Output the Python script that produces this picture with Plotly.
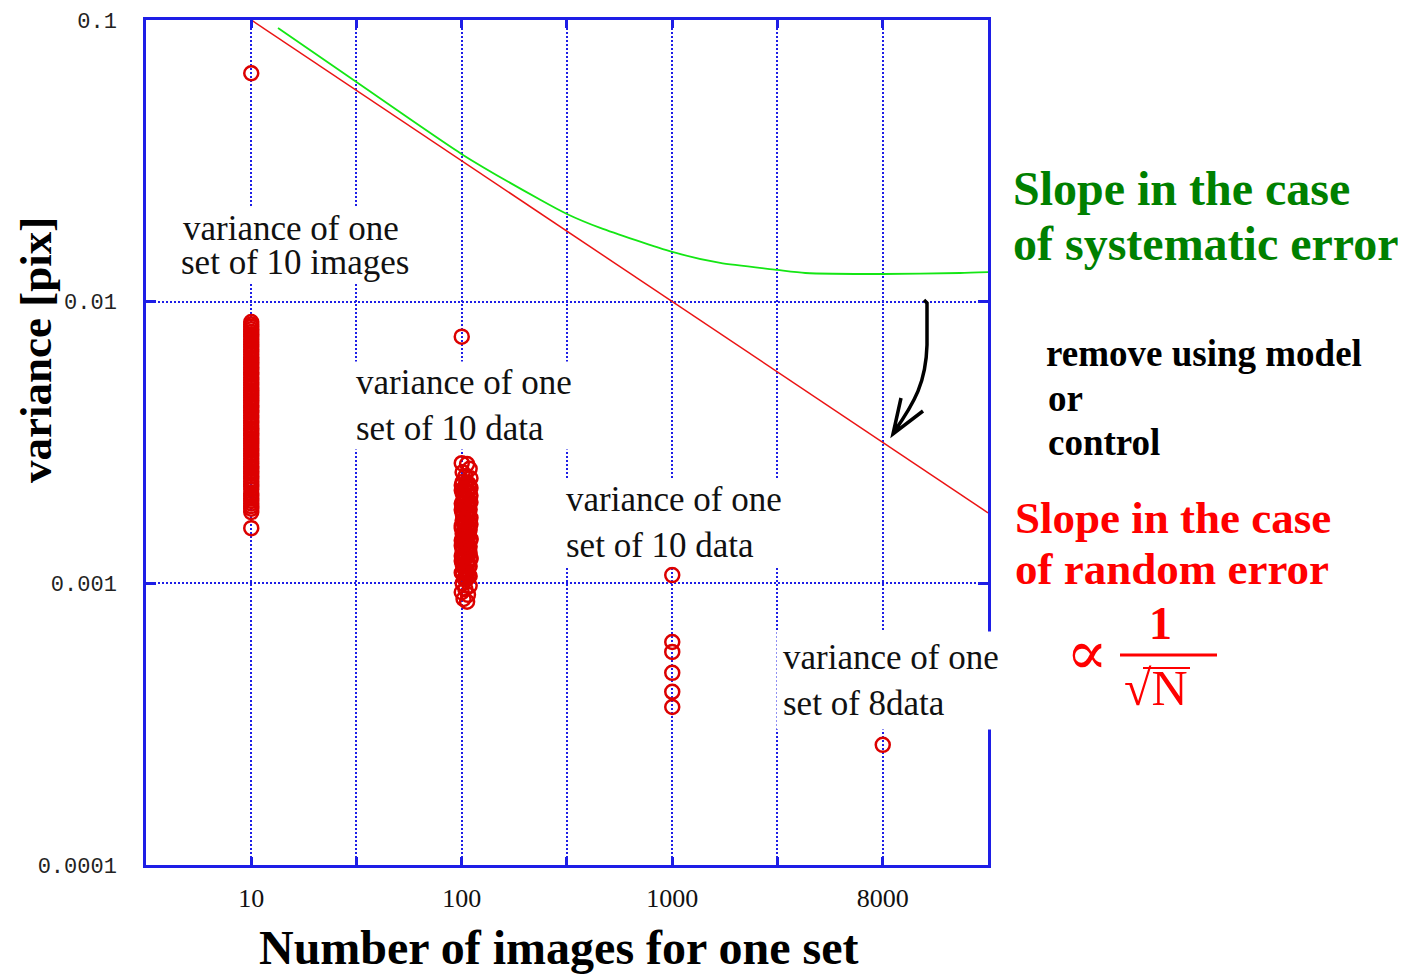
import plotly.graph_objects as go

# x axis (log): labelled ticks; the last tick is labelled 8000 in the original
tick_pos = [10, 31.62, 100, 316.2, 1000, 3162, 10000]
tick_text = ['10', '', '100', '', '1000', '', '8000']
y_ticks = [0.0001, 0.001, 0.01, 0.1]
y_text = ['0.0001', '0.001', '0.01', '0.1']

# variance of one set of 10 images (N = 10)
n10_var = [0.0647,
           0.00847, 0.00830, 0.00815, 0.00798, 0.00781, 0.00766, 0.00750, 0.00735, 0.00719, 0.00705,
           0.00690, 0.00676, 0.00662, 0.00649, 0.00635, 0.00622, 0.00610, 0.00597, 0.00585, 0.00573,
           0.00561, 0.00550, 0.00538, 0.00527, 0.00516, 0.00506, 0.00495, 0.00485, 0.00475, 0.00466,
           0.00456, 0.00447, 0.00437, 0.00428, 0.00420, 0.00411, 0.00403, 0.00394, 0.00386, 0.00378,
           0.00371, 0.00363, 0.00355, 0.00348, 0.00341, 0.00334, 0.00327, 0.00320, 0.00314, 0.00307,
           0.00301, 0.00295, 0.00289, 0.00283, 0.00277, 0.00271, 0.00266, 0.00260, 0.00255, 0.00250,
           0.00245, 0.00240, 0.00235, 0.00230, 0.00225, 0.00221, 0.00216, 0.00208, 0.00204, 0.00200,
           0.00196, 0.00192, 0.00188, 0.00184, 0.00179,
           0.00157]
n10_n = [10] * len(n10_var)

# variance of one set of 10 data (N around 100)
n100_n = [100, 100, 106, 109, 101, 104, 110,
          101, 108, 104, 110, 100, 106, 102, 109, 105,
          103, 110, 101, 107, 104, 100, 108, 102, 106,
          109, 101, 105, 110, 103, 100, 107, 104, 108,
          102, 110, 100, 106, 103, 109, 101, 105, 108,
          104, 100, 110, 102, 107, 101, 109, 103, 106,
          100, 108, 104, 105,
          105, 100, 109, 103, 107, 101, 110, 104, 102,
          108, 100, 106, 103, 109, 105, 101, 107, 110,
          102, 104, 108, 100, 106, 109, 103, 101, 105,
          107, 110, 102, 104, 100, 108, 106, 101, 109,
          103, 105, 110, 100, 107, 102, 108, 104, 101,
          106, 109, 103,
          101, 109, 104, 100, 107, 102, 106]
n100_var = [0.00751, 0.00267, 0.00265, 0.00255, 0.00248, 0.00240, 0.00236,
            0.00229, 0.00225, 0.00222, 0.00218, 0.00214, 0.00211, 0.00207, 0.00204, 0.00200,
            0.00197, 0.00194, 0.00191, 0.00188, 0.00185, 0.00182, 0.00179, 0.00176, 0.00173,
            0.00170, 0.00167, 0.00165, 0.00162, 0.00159, 0.00157, 0.00154, 0.00152, 0.00149,
            0.00147, 0.00144, 0.00142, 0.00140, 0.00137, 0.00135, 0.00133, 0.00131, 0.00129,
            0.00127, 0.00125, 0.00123, 0.00121, 0.00119, 0.00117, 0.00115, 0.00113, 0.00111,
            0.00109, 0.00107, 0.00105, 0.00103,
            0.00227, 0.00223, 0.00220, 0.00216, 0.00212, 0.00209, 0.00205, 0.00202, 0.00198,
            0.00195, 0.00192, 0.00189, 0.00186, 0.00183, 0.00180, 0.00177, 0.00174, 0.00171,
            0.00168, 0.00166, 0.00163, 0.00160, 0.00158, 0.00155, 0.00153, 0.00150, 0.00148,
            0.00145, 0.00143, 0.00141, 0.00138, 0.00136, 0.00134, 0.00132, 0.00130, 0.00128,
            0.00126, 0.00124, 0.00122, 0.00120, 0.00118, 0.00116, 0.00114, 0.00112, 0.00110,
            0.00108, 0.00106, 0.00104,
            0.00100, 0.00098, 0.000955, 0.00093, 0.00091, 0.00088, 0.00086]

# N = 1000 and the "8000" set (drawn at the 8000 tick)
n1000_var = [0.00107, 0.000619, 0.000571, 0.000481, 0.000412, 0.000364]
n8000_var = [0.000267]

# slope lines
random_n = [10, 31623]
random_var = [0.1, 0.00178]
syst_n = [13.4, 31.6, 100, 236, 316, 455, 1000, 1690, 3162, 4285, 10000, 23300, 31623]
syst_var = [0.0937, 0.0602, 0.0334, 0.0230, 0.02048, 0.01827, 0.01501, 0.01372,
            0.01296, 0.01264, 0.01254, 0.01264, 0.01273]

BLUE = 'rgb(30,30,230)'
RED_MK = 'rgb(220,0,0)'
SERIF = 'Liberation Serif'


# pixel -> paper helpers (plot area 146..988 x 20..865 on the page)
def X(p):
    return (p - 146) / 842


def Y(p):
    return (865 - p) / 845


fig = go.Figure()

fig.add_trace(go.Scatter(x=random_n, y=random_var, mode='lines',
                         line=dict(color='rgb(235,20,20)', width=1.5)))
fig.add_trace(go.Scatter(x=syst_n, y=syst_var, mode='lines',
                         line=dict(color='rgb(20,230,20)', width=1.8, shape='spline', smoothing=0.6)))

marker = dict(symbol='circle-open', size=14, color=RED_MK, line=dict(width=2.5, color=RED_MK))
fig.add_trace(go.Scatter(x=n10_n, y=n10_var, mode='markers', marker=marker))
fig.add_trace(go.Scatter(x=n100_n, y=n100_var, mode='markers', marker=marker))
fig.add_trace(go.Scatter(x=[1000] * len(n1000_var), y=n1000_var, mode='markers', marker=marker))
fig.add_trace(go.Scatter(x=[10000], y=n8000_var, mode='markers', marker=marker))

annotations = []


def label(text, x, y, size, color='black', bg=None, family=SERIF, xanchor='left', angle=0, pad=1):
    a = dict(text=text, x=X(x), y=Y(y), xref='paper', yref='paper', showarrow=False,
             xanchor=xanchor, yanchor='middle', align='left', textangle=angle,
             font=dict(family=family, size=size, color=color), borderpad=pad)
    if bg:
        a['bgcolor'] = bg
    annotations.append(a)


# boxed labels inside the plot
label('variance of one', 180, 228, 35, '#111', 'white', pad=2)
label('set of 10 images', 180, 262, 35, '#111', 'white', pad=0)
label('variance of one<br>set of 10 data', 354, 405, 35, '#111', 'white', pad=1)
label('variance of one<br>set of 10 data', 564, 522, 35, '#111', 'white', pad=1)
label('variance of one<br>set of 8data', 776, 680, 35, '#111', 'white', pad=6)

# right-hand notes
label('<b>Slope in the case</b>', 1011, 189, 48, 'rgb(0,128,0)')
label('<b>of systematic error</b>', 1011, 244, 48, 'rgb(0,128,0)')
label('<b>remove using model</b>', 1044, 353, 37)
label('<b>or</b>', 1046, 398, 37)
label('<b>control</b>', 1046, 442, 37)
label('<b>Slope in the case</b>', 1013, 518, 45, 'red')
label('<b>of random error</b>', 1013, 569, 45, 'red')
label('∝', 1087, 652, 62, 'red', family='DejaVu Serif', xanchor='center')
label('<b>1</b>', 1160, 623, 46, 'red', xanchor='center')
label('√N', 1156, 688, 50, 'red', xanchor='center')

# axis titles
label('<b>variance [pix]</b>', 36, 350, 45, xanchor='center', angle=-90)
label('<b>Number of images for one set</b>', 558, 948, 48, xanchor='center')

arrow_path = (f'M {X(924)},{Y(300)} L {X(927)},{Y(303)} L {X(927)},{Y(345)} '
              f'C {X(926)},{Y(382)} {X(915)},{Y(402)} {X(894)},{Y(432)} '
              f'M {X(901)},{Y(398)} L {X(893)},{Y(434)} L {X(923)},{Y(411)}')

shapes = [
    dict(type='line', xref='paper', yref='paper', x0=X(1120), x1=X(1217), y0=Y(655), y1=Y(655),
         line=dict(color='red', width=3)),
    dict(type='line', xref='paper', yref='paper', x0=X(1143), x1=X(1190), y0=Y(668), y1=Y(668),
         line=dict(color='red', width=2)),
    dict(type='path', xref='paper', yref='paper', path=arrow_path,
         line=dict(color='black', width=3.5)),
]

axis_common = dict(type='log', showline=True, linecolor=BLUE, linewidth=2.5, mirror='ticks',
                   ticks='inside', tickcolor=BLUE, tickwidth=2.5, automargin=False,
                   showgrid=True, gridcolor=BLUE, gridwidth=1.5, griddash='2px,2px',
                   zeroline=False)

# page body adds an 8px margin, so the figure is 8px smaller and margins shifted
fig.update_layout(
    width=1398, height=967,
    margin=dict(l=138, r=418, t=12, b=110),
    paper_bgcolor='white', plot_bgcolor='white',
    showlegend=False,
    xaxis=dict(axis_common, range=[0.5, 4.5], tickvals=tick_pos, ticktext=tick_text, ticklen=8,
               tickfont=dict(family=SERIF, size=26, color='#111'), ticklabelstandoff=8),
    yaxis=dict(axis_common, range=[-4, -1], tickvals=y_ticks, ticktext=y_text, ticklen=10,
               tickfont=dict(family='Liberation Mono', size=22, color='#222'), ticklabelstandoff=22),
    annotations=annotations,
    shapes=shapes,
)

fig.write_html("out.html")
